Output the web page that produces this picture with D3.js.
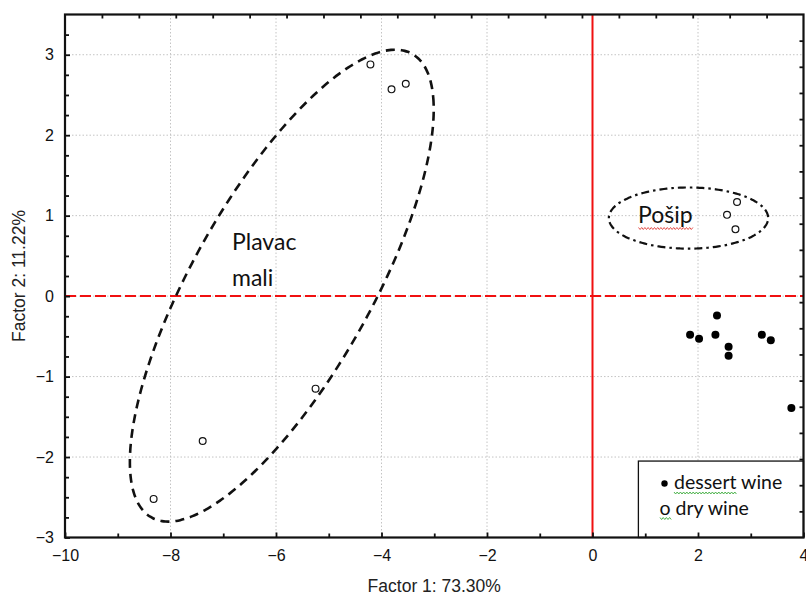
<!DOCTYPE html>
<html><head><meta charset="utf-8">
<script src="https://cdn.jsdelivr.net/npm/d3@7"></script>
<style>body{margin:0;background:#fff}svg{display:block}</style>
</head><body>
<svg id="c" width="806" height="598"></svg>
<script>
// ---- data ----
const xTicks = [-10, -8, -6, -4, -2, 0, 2, 4];
const yTicks = [-3, -2, -1, 0, 1, 2, 3];
const xTitle = "Factor 1: 73.30%";
const yTitle = "Factor 2: 11.22%";
const dryX = [-4.21, -3.81, -3.54, -5.25, -7.39, -8.32, 2.74, 2.55, 2.71];
const dryY = [2.88, 2.57, 2.64, -1.15, -1.80, -2.52, 1.17, 1.01, 0.83];
const dessertX = [1.85, 2.02, 2.33, 2.36, 2.58, 2.58, 3.21, 3.38, 3.77];
const dessertY = [-0.48, -0.53, -0.48, -0.24, -0.63, -0.74, -0.48, -0.55, -1.39];
const legendLabels = ["dessert wine", "o dry wine"];
const groupLabels = ["Plavac", "mali", "Pošip"];
// ellipse annotations in data units: centre + two conjugate semi-diameters
const plavacEllipse = {cx: -5.89, cy: 0.13, ux: 2.88, uy: 2.19, vx: 0, vy: 1.95};
const posipEllipse = {cx: 1.82, cy: 0.97, ux: 1.51, uy: 0, vx: 0, vy: 0.38};

// ---- layout ----
const svg = d3.select("#c");
const L = 65, R = 803.5, T = 14.5, B = 537.5;
const x = d3.scaleLinear().domain([-10, 4]).range([L, R]);
const y = d3.scaleLinear().domain([-3, 3.5]).range([B, T]);
const FONT = "'Liberation Sans', Arial, sans-serif";
const CAL = "Lato, 'Open Sans', sans-serif";

// grid
const g = svg.append("g");
g.selectAll("line.gx").data(xTicks.filter(d => d > -10 && d < 4)).join("line")
  .attr("x1", d => x(d)).attr("x2", d => x(d)).attr("y1", T).attr("y2", B)
  .attr("stroke", "#c4c4c4").attr("stroke-width", 1).attr("stroke-dasharray", "1.5,2");
g.selectAll("line.gy").data(yTicks.filter(d => d > -3)).join("line")
  .attr("y1", d => y(d)).attr("y2", d => y(d)).attr("x1", L).attr("x2", R)
  .attr("stroke", "#c4c4c4").attr("stroke-width", 1).attr("stroke-dasharray", "1.5,2");

// red reference lines
svg.append("line").attr("x1", x(-10)).attr("x2", x(4)).attr("y1", y(0)).attr("y2", y(0))
  .attr("stroke", "#f01010").attr("stroke-width", 2).attr("stroke-dasharray", "11,4");
svg.append("line").attr("x1", x(0)).attr("x2", x(0)).attr("y1", T).attr("y2", B)
  .attr("stroke", "#f01010").attr("stroke-width", 2);

// ellipses
function ellipsePts(e) {
  return d3.range(0, 361, 2).map(a => {
    const t = a * Math.PI / 180;
    return [x(e.cx + e.ux * Math.cos(t) + e.vx * Math.sin(t)),
            y(e.cy + e.uy * Math.cos(t) + e.vy * Math.sin(t))];
  });
}
const line = d3.line().curve(d3.curveCardinalClosed);
svg.append("path").attr("d", line(ellipsePts(plavacEllipse)))
  .attr("fill", "none").attr("stroke", "#111").attr("stroke-width", 2.6).attr("stroke-dasharray", "9,6");
svg.append("path").attr("d", line(ellipsePts(posipEllipse)))
  .attr("fill", "none").attr("stroke", "#111").attr("stroke-width", 2.2).attr("stroke-dasharray", "8,4,2.5,4");

// points
svg.selectAll("circle.dry").data(dryX).join("circle")
  .attr("cx", d => x(d)).attr("cy", (d, i) => y(dryY[i])).attr("r", 3.4)
  .attr("fill", "#fff").attr("stroke", "#111").attr("stroke-width", 1.2);
svg.selectAll("circle.des").data(dessertX).join("circle")
  .attr("cx", d => x(d)).attr("cy", (d, i) => y(dessertY[i])).attr("r", 4)
  .attr("fill", "#000");

// group labels
svg.append("text").attr("x", 232).attr("y", 249.5).text(groupLabels[0])
  .attr("font-family", CAL).attr("font-size", 23).attr("fill", "#111");
svg.append("text").attr("x", 232).attr("y", 285.5).text(groupLabels[1])
  .attr("font-family", CAL).attr("font-size", 23).attr("fill", "#111");
svg.append("text").attr("x", 638).attr("y", 223).text(groupLabels[2])
  .attr("font-family", CAL).attr("font-size", 23).attr("fill", "#111");

function wavy(x0, x1, yy, color) {
  const pts = [];
  for (let xx = x0, k = 0; xx <= x1; xx += 1.6, k++) pts.push([xx, yy + (k % 2 ? 1 : -1)]);
  svg.append("path").attr("d", d3.line()(pts)).attr("fill", "none")
    .attr("stroke", color).attr("stroke-width", 0.9);
}
wavy(638.5, 693, 228.5, "#e0403a");

// legend
const lx = x(0.87), ly = y(-2.05);
svg.append("rect").attr("x", lx).attr("y", ly).attr("width", R - lx).attr("height", B - ly)
  .attr("fill", "#fff").attr("stroke", "#111").attr("stroke-width", 1.3);
svg.append("circle").attr("cx", 664.5).attr("cy", 483.5).attr("r", 3.2).attr("fill", "#000");
svg.append("text").attr("x", 674).attr("y", 488.5).text(legendLabels[0])
  .attr("font-family", CAL).attr("font-size", 19.5).attr("fill", "#111");
svg.append("text").attr("x", 659.5).attr("y", 514.5).text(legendLabels[1])
  .attr("font-family", CAL).attr("font-size", 19.5).attr("fill", "#111");
wavy(674, 737, 493, "#3aaa3a");
wavy(660, 672, 518.5, "#3aaa3a");

// axes
function styleAxis(sel) {
  sel.select(".domain").remove();
  sel.selectAll(".tick line").attr("stroke", "#111").attr("stroke-width", 1.8);
  sel.selectAll("text").attr("font-family", FONT).attr("font-size", 16).attr("fill", "#111");
}
svg.append("g").attr("transform", `translate(0,${B})`)
  .call(d3.axisBottom(x).tickValues(xTicks).tickSizeInner(-5).tickSizeOuter(0).tickPadding(12).tickFormat(d3.format("d")))
  .call(styleAxis);
svg.append("g").attr("transform", `translate(0,${B})`)
  .call(d3.axisBottom(x).tickValues(d3.range(-9, 4, 2)).tickSize(-4).tickFormat(""))
  .call(styleAxis);
svg.append("g").attr("transform", `translate(${L},0)`)
  .call(d3.axisLeft(y).tickValues(yTicks).tickSizeInner(-5).tickSizeOuter(0).tickPadding(11).tickFormat(d3.format("d")))
  .call(styleAxis);
svg.append("g").attr("transform", `translate(${L},0)`)
  .call(d3.axisLeft(y).tickValues(d3.range(-2.75, 3.5, 0.25).filter(v => Math.abs(v - Math.round(v)) > 0.01)).tickSize(-4).tickFormat(""))
  .call(styleAxis);
const xTop = d3.scaleLinear().domain([0, 20]).range([L, R]);
const yRight = d3.scaleLinear().domain([0, 20]).range([B, T]);
svg.append("g").attr("transform", `translate(0,${T})`)
  .call(d3.axisTop(xTop).tickValues(d3.range(1, 20)).tickSize(-4).tickFormat(""))
  .call(styleAxis);
svg.append("g").attr("transform", `translate(${R},0)`)
  .call(d3.axisRight(yRight).tickValues(d3.range(1, 20)).tickSize(-4).tickFormat(""))
  .call(styleAxis);

// frame
svg.append("rect").attr("x", L).attr("y", T).attr("width", R - L).attr("height", B - T)
  .attr("fill", "none").attr("stroke", "#111").attr("stroke-width", 2.2);

// titles
svg.append("text").attr("x", (L + R) / 2).attr("y", 592).attr("text-anchor", "middle")
  .attr("font-family", FONT).attr("font-size", 17.5).attr("fill", "#222").text(xTitle);
svg.append("text").attr("transform", `translate(25,276) rotate(-90)`)
  .attr("text-anchor", "middle")
  .attr("font-family", FONT).attr("font-size", 17.5).attr("fill", "#222").text(yTitle);
</script>
</body></html>
